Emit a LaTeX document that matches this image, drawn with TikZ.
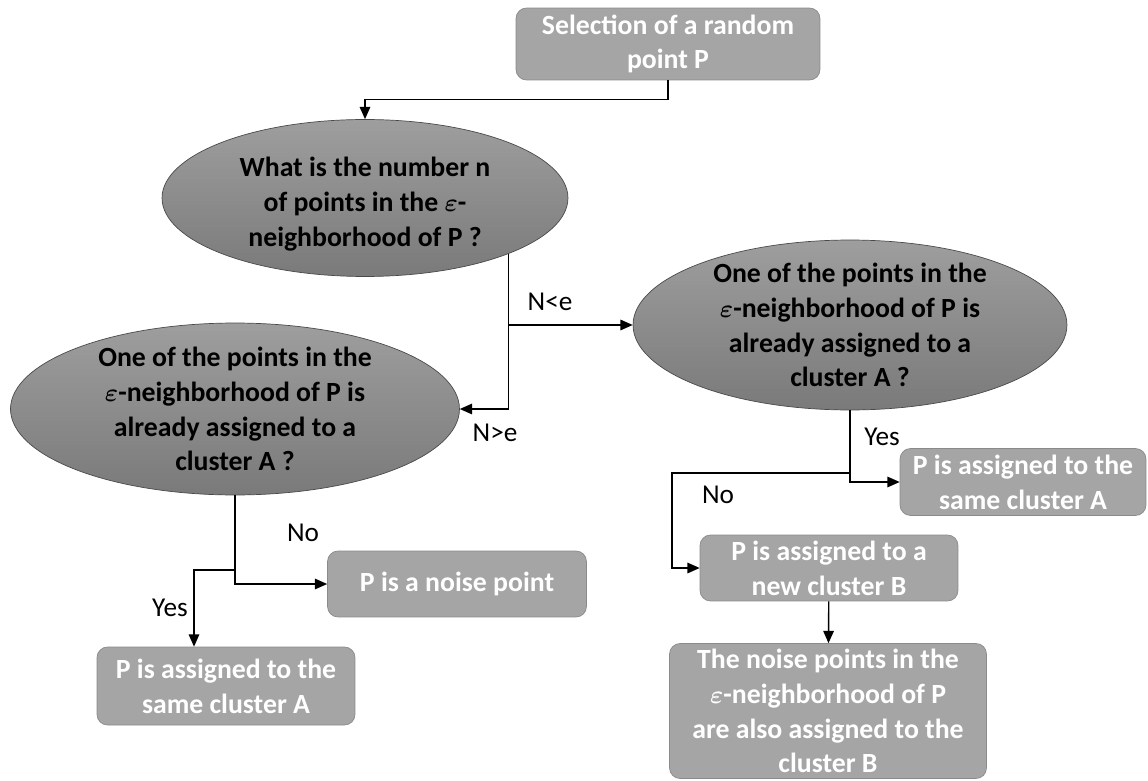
\documentclass[tikz,border=0pt]{standalone}
\usepackage{amsmath}
\usepackage{fontspec}
\setmainfont{Carlito}
\usetikzlibrary{shapes.geometric,arrows.meta}
\definecolor{boxfill}{HTML}{A5A5A5}
\definecolor{boxline}{HTML}{8A8A8A}
\definecolor{elltop}{HTML}{9E9E9E}
\definecolor{ellbot}{HTML}{7A7A7A}
\definecolor{ellline}{HTML}{4A4A4A}
\tikzset{
  stepbox/.style={draw=boxline,fill=boxfill,rounded corners=6pt,text=white,
    align=center,inner sep=0pt,
    font=\fontsize{15.8pt}{19.8pt}\selectfont\bfseries},
  question/.style={ellipse,draw=ellline,top color=elltop,bottom color=ellbot,
    inner sep=0pt},
  qtext/.style={align=center,text=black,inner sep=0pt,
    font=\fontsize{15.8pt}{19.8pt}\selectfont\bfseries},
  answer/.style={font=\fontsize{15.5pt}{18pt}\selectfont},
  arr/.style={-{Triangle[length=7pt,width=6pt]},line width=0.8pt}
}
\begin{document}
\begin{tikzpicture}[x=0.02cm,y=-0.02cm]
        \useasboundingbox (0,0) rectangle (1148,780);
        \node[stepbox,minimum width=6.08cm,minimum height=1.44cm] (sel) at (668,44)
            {Selection of a random\\point P};
        \node[question,minimum width=8.12cm,minimum height=3.14cm,
            label={[qtext,yshift=-0.12cm]center:{What is the number n\\of points in the $\boldsymbol{\varepsilon}$-\\neighborhood of P ?}}] (q1) at (365,198) {};
        \node[question,minimum width=8.68cm,minimum height=3.4cm,
            label={[qtext]center:{One of the points in the\\$\boldsymbol{\varepsilon}$-neighborhood of P is\\already assigned to a\\cluster A ?}}] (q2) at (850,325) {};
        \node[question,minimum width=8.98cm,minimum height=3.44cm,
            label={[qtext]center:{One of the points in the\\$\boldsymbol{\varepsilon}$-neighborhood of P is\\already assigned to a\\cluster A ?}}] (q3) at (235,409) {};
        \node[stepbox,minimum width=5.18cm,minimum height=1.32cm] (noise) at (457,584)
            {P is a noise point};
        \node[stepbox,minimum width=5.16cm,minimum height=1.56cm] (sameA) at (226,686)
            {P is assigned to the\\same cluster A};
        \node[stepbox,minimum width=4.92cm,minimum height=1.34cm] (sameA2) at (1023,482)
            {P is assigned to the\\same cluster A};
        \node[stepbox,minimum width=5.16cm,minimum height=1.32cm] (newB) at (829,568)
            {P is assigned to a\\new cluster B};
        \node[stepbox,minimum width=6.34cm,minimum height=2.7cm] (last) at (828,711)
            {The noise points in the\\$\boldsymbol{\varepsilon}$-neighborhood of P\\are also assigned to the\\cluster B};
        % connectors
        \coordinate (yesA) at (194,570);
        \coordinate (noB) at (672,473);
        \draw[arr] (sel.south) -- ++(0,19) -| (q1.north);
        \draw[arr] (q1.south east) |- (q2.west);
        \draw[arr] (q1.south east) |- (q3.east);
        \draw[arr] (q3.south) |- (noise.west);
        \draw[arr] (q3.south |- yesA) -- (yesA) -- (yesA |- sameA.north);
        \draw[arr] (q2.south) |- (sameA2.west);
        \draw[arr] (q2.south |- noB) -- (noB) |- (newB.west);
        \draw[arr] (newB) -- (last);
        % labels
        \node[answer] (nlt) at (550,302) {N<e};
        \node[answer] (ngt) at (495,433) {N>e};
        \node[answer] (no1) at (303,533) {No};
        \node[answer] (yes1) at (170,608) {Yes};
        \node[answer] (yes2) at (882,437) {Yes};
        \node[answer] (no2) at (718,495) {No};
\end{tikzpicture}
\end{document}
